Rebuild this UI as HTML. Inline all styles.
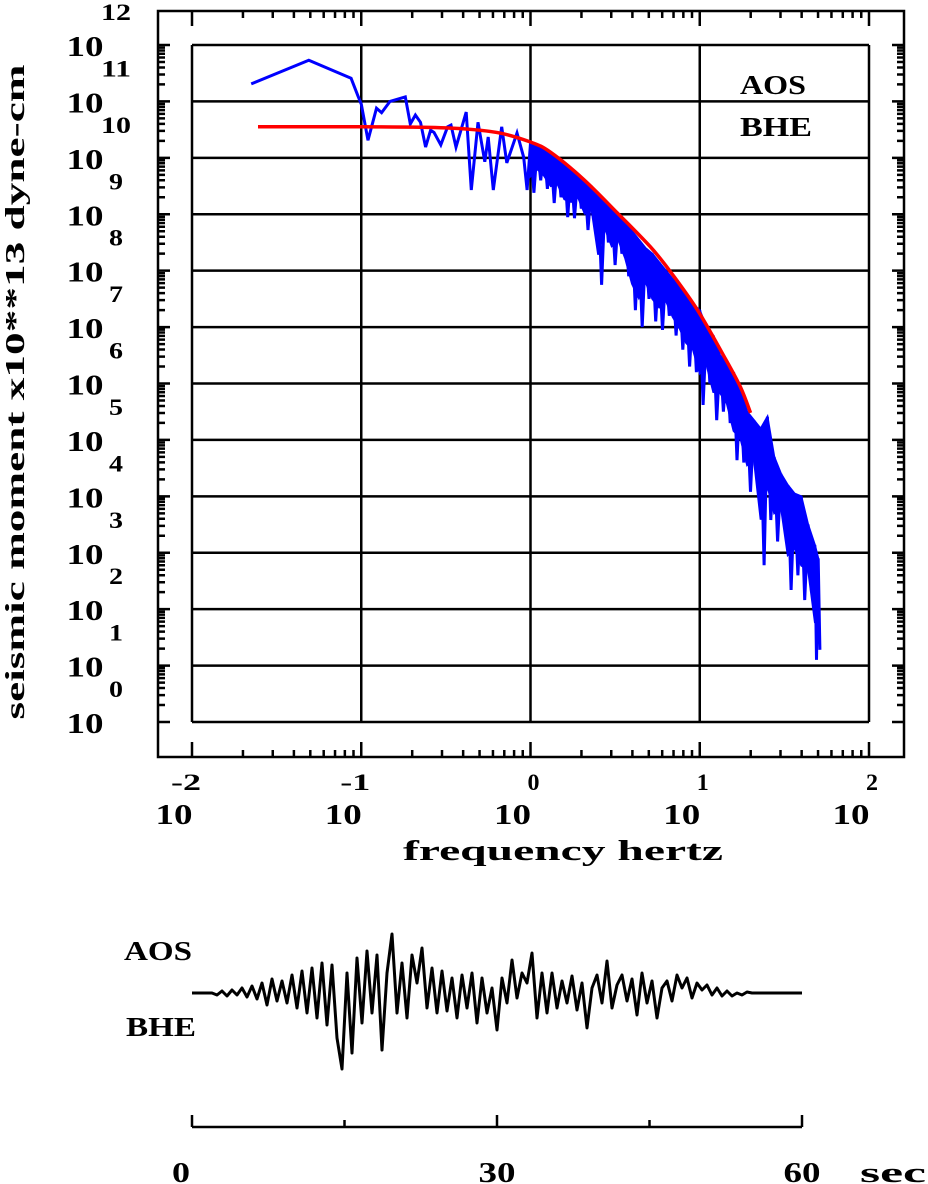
<!DOCTYPE html>
<html><head><meta charset="utf-8"><style>
html,body{margin:0;padding:0;background:#fff;}
svg{display:block;}
text{font-family:"Liberation Serif",serif;font-weight:bold;fill:#000;}
</style></head><body>
<svg id="chart" width="928" height="1184" viewBox="0 0 928 1184" xmlns="http://www.w3.org/2000/svg">
<g id="grid"></g>
<g id="frames"></g>
<g id="labels"></g>
<g id="series"></g>
<text x="0" y="0" transform="translate(24,392) rotate(-90)" text-anchor="middle" font-size="27" textLength="655" lengthAdjust="spacingAndGlyphs">seismic moment x10**13 dyne-cm</text>
<text x="563" y="860" text-anchor="middle" font-size="29" textLength="320" lengthAdjust="spacingAndGlyphs">frequency  hertz</text>
<text x="773" y="94" text-anchor="middle" font-size="27" textLength="66" lengthAdjust="spacingAndGlyphs">AOS</text>
<text x="776" y="136" text-anchor="middle" font-size="27" textLength="72" lengthAdjust="spacingAndGlyphs">BHE</text>
<text x="158" y="960" text-anchor="middle" font-size="27" textLength="68" lengthAdjust="spacingAndGlyphs">AOS</text>
<text x="161" y="1036" text-anchor="middle" font-size="27" textLength="70" lengthAdjust="spacingAndGlyphs">BHE</text>
<g id="wave"></g>
</svg>
<script>
// ---- data ----
const yExponents = [0,1,2,3,4,5,6,7,8,9,10,11,12];
const xExponents = [-2,-1,0,1,2];
const xTickLabels = ["-2","-1","0","1","2"];
// observed spectrum, low-frequency part (log10 Hz, log10 moment)
const specLowF = [-1.65,-1.31,-1.06,-1.02,-1.0,-0.96,-0.91,-0.88,-0.83,-0.74,-0.71,-0.68,-0.65,-0.62,-0.59,-0.57,-0.53,-0.49,-0.47,-0.44,-0.38,-0.35,-0.31,-0.27,-0.25,-0.22,-0.17,-0.14,-0.08,-0.04,-0.02];
const specLowA = [11.31,11.73,11.41,11.1,10.95,10.31,10.88,10.8,11.0,11.08,10.6,10.76,10.63,10.19,10.49,10.45,10.23,10.55,10.58,10.19,10.81,9.43,10.63,9.93,10.37,9.43,10.55,9.91,10.44,10.01,9.43];
// observed spectrum, dense high-frequency part (envelope hi/lo)
const specDenseF = [0,0.04,0.08,0.12,0.16,0.2,0.24,0.28,0.32,0.36,0.4,0.44,0.48,0.52,0.56,0.6,0.64,0.68,0.72,0.76,0.8,0.84,0.88,0.92,0.96,1.0,1.04,1.08,1.12,1.16,1.2,1.24,1.28,1.32,1.36,1.4,1.44,1.48,1.52,1.56,1.6,1.64,1.68,1.7];
const specDenseHi = [10.26,10.2,10.15,10.1,10.0,9.9,9.8,9.72,9.6,9.5,9.35,9.25,9.1,9.0,8.85,8.7,8.55,8.4,8.3,8.15,8.0,7.85,7.75,7.55,7.4,7.3,7.0,6.85,6.5,6.35,6.2,5.9,5.5,5.35,5.2,5.41,4.7,4.4,4.2,4.05,4.0,3.5,3.14,2.9];
const specDenseLo = [9.38,9.6,9.45,9.2,9.3,8.95,8.93,9.1,8.72,8.9,7.75,8.5,8.1,8.3,7.9,7.3,7.0,7.5,7.1,6.95,7.2,6.85,6.6,6.3,6.2,5.62,6.0,5.35,5.5,5.3,4.64,4.6,4.08,4.3,2.78,3.58,3.2,3.5,2.34,2.6,2.16,2.3,1.1,1.28];
// model spectrum
const modelF = [-1.61,-1.0,-0.5,-0.2,0,0.118,0.313,0.514,0.709,0.827,0.987,1.14,1.24,1.30];
const modelA = [10.55,10.55,10.53,10.45,10.28,10.1,9.62,9.02,8.42,7.98,7.30,6.50,5.94,5.48];
// waveform samples (evenly spaced over 0-60 s)
const waveAmp = [0,0,0,0,0,-2,2,-3,3,-2,5,-4,7,-6,10,-12,14,-8,12,-10,18,-15,22,-20,25,-25,30,-32,28,-45,-76,20,-60,35,-30,42,-20,38,-57,20,59,-20,30,-25,38,10,45,-15,25,-20,22,-18,15,-25,18,-15,20,-30,15,-20,5,-37,15,-10,33,-5,20,10,40,-25,20,-20,20,-15,12,-10,17,-17,10,-35,5,18,-10,32,-15,8,18,-8,14,-22,20,-10,12,-25,5,12,-8,18,5,15,-5,10,3,8,-2,5,-3,2,-3,0,-2,1,0,0,0,0,0,0,0,0,0,0,0];
const timeTicks = [0,15,30,45,60];
const timeLabels = ["0","30","60"];
const timeLabelValues = [0,30,60];

// ---- scales ----
const X0=192, X1=869, Y0=722, Y1=45;
const xs = f => X0 + (f+2)/4*(X1-X0);
const ys = a => Y0 - a/12*(Y0-Y1);
const WX0=192, WX1=802, WY=993;
const tx = t => WX0 + t/60*(WX1-WX0);
const NS="http://www.w3.org/2000/svg";
function mk(tag, parent, attrs){const e=document.createElementNS(NS,tag);for(const k in attrs)e.setAttribute(k,attrs[k]);parent.appendChild(e);return e;}
const grid=document.getElementById('grid'), frames=document.getElementById('frames'), labels=document.getElementById('labels'), series=document.getElementById('series'), wave=document.getElementById('wave');

yExponents.forEach(e=>{const l=mk('line',grid,{x1:X0,x2:X1,y1:ys(e),y2:ys(e),stroke:'#000','stroke-width':2.5});

});
xExponents.forEach(e=>{const l=mk('line',grid,{x1:xs(e),x2:xs(e),y1:Y1,y2:Y0,stroke:'#000','stroke-width':2.5});

});
const outer=mk('rect',frames,{x:158,y:11,width:746,height:746,fill:'none',stroke:'#000','stroke-width':2.5});


const minors=[2,3,4,5,6,7,8,9].map(v=>Math.log10(v));
let td='';
xExponents.forEach((e,i)=>{const x=xs(e);td+=`M${x} 11V26M${x} 757V742`;
 if(i<xExponents.length-1) minors.forEach(m=>{const xm=xs(e+m);td+=`M${xm} 11V18M${xm} 757V750`;});});
yExponents.forEach((e,i)=>{const y=ys(e);td+=`M158 ${y}H170M904 ${y}H892`;
 if(i<yExponents.length-1) minors.forEach(m=>{const ym=ys(e+m);td+=`M158 ${ym}H165M904 ${ym}H897`;});});
const ticks=mk('path',frames,{d:td,stroke:'#000','stroke-width':2.5,fill:'none'});


yExponents.forEach(e=>{const y=ys(e);
 const t=mk('text',labels,{x:85,y:y+11,'text-anchor':'middle','font-size':29,textLength:37,lengthAdjust:'spacingAndGlyphs'});t.textContent='10';
 
 
 const s=mk('text',labels,{x:116,y:y-25,'text-anchor':'middle','font-size':23,textLength:(String(e).length>1?30:14),lengthAdjust:'spacingAndGlyphs'});s.textContent=String(e);
 
 });
xExponents.forEach((e,i)=>{const x=xs(e);
 const s=mk('text',labels,{x:x+(e<0?-6:3),y:790,'text-anchor':'middle','font-size':23,textLength:(xTickLabels[i].length>1?30:12),lengthAdjust:'spacingAndGlyphs'});s.textContent=xTickLabels[i];
 
 
 const t=mk('text',labels,{x:x-18,y:824,'text-anchor':'middle','font-size':29,textLength:37,lengthAdjust:'spacingAndGlyphs'});t.textContent='10';
 
 });

// observed spectrum
let pts=specLowF.map((f,i)=>xs(f).toFixed(1)+','+ys(specLowA[i]).toFixed(1));
specDenseF.forEach((f,i)=>{pts.push(xs(f).toFixed(1)+','+ys(specDenseHi[i]).toFixed(1));
 const f2=i<specDenseF.length-1?(f+specDenseF[i+1])/2:f+0.01;
 pts.push(xs(f2).toFixed(1)+','+ys(specDenseLo[i]).toFixed(1));});
const obs=mk('polyline',series,{points:pts.join(' '),fill:'none',stroke:'#0000ff','stroke-width':3,'stroke-linejoin':'miter'});


let band=specDenseF.map((f,i)=>xs(f)+','+ys(specDenseHi[i]));
for(let i=specDenseF.length-1;i>=0;i--){band.push(xs(specDenseF[i])+','+ys((specDenseHi[i]+specDenseLo[i]*2)/3));}
const bandEl=mk('polygon',series,{points:band.join(' '),fill:'#0000ff',stroke:'#0000ff','stroke-width':2});


// model: smooth Catmull-Rom curve through points
const MP=modelF.map((f,i)=>[xs(f),ys(modelA[i])]);
let md=`M${MP[0][0]} ${MP[0][1]}`;
for(let i=0;i<MP.length-1;i++){const p0=MP[Math.max(0,i-1)],p1=MP[i],p2=MP[i+1],p3=MP[Math.min(MP.length-1,i+2)];
 md+=`C${p1[0]+(p2[0]-p0[0])/6} ${p1[1]+(p2[1]-p0[1])/6} ${p2[0]-(p3[0]-p1[0])/6} ${p2[1]-(p3[1]-p1[1])/6} ${p2[0]} ${p2[1]}`;}
const model=mk('path',series,{d:md,fill:'none',stroke:'#ff0000','stroke-width':3.5});



// waveform
const waveDt = 60/(waveAmp.length-1);
const wp=waveAmp.map((a,i)=>tx(i*waveDt).toFixed(1)+','+(WY-a).toFixed(1)).join(' ');
const wl=mk('polyline',wave,{points:wp,fill:'none',stroke:'#000','stroke-width':3,'stroke-linejoin':'round'});


const ax=mk('line',wave,{x1:WX0,x2:WX1,y1:1127,y2:1127,stroke:'#000','stroke-width':2.5});


timeTicks.forEach(t=>{const major=t%30===0;const l=mk('line',wave,{x1:tx(t),x2:tx(t),y1:1127,y2:major?1115:1120,stroke:'#000','stroke-width':2.5});
 
 });
timeLabels.forEach((s,i)=>{const v=timeLabelValues[i];const t=mk('text',wave,{x:tx(v)+(v===0?-11:0),y:1182,'text-anchor':'middle','font-size':29,textLength:(s.length>1?37:18),lengthAdjust:'spacingAndGlyphs'});t.textContent=s;
 
 });
const sec=mk('text',wave,{x:893,y:1182,'text-anchor':'middle','font-size':29,textLength:66,lengthAdjust:'spacingAndGlyphs'});sec.textContent='sec';


</script>
</body></html>
